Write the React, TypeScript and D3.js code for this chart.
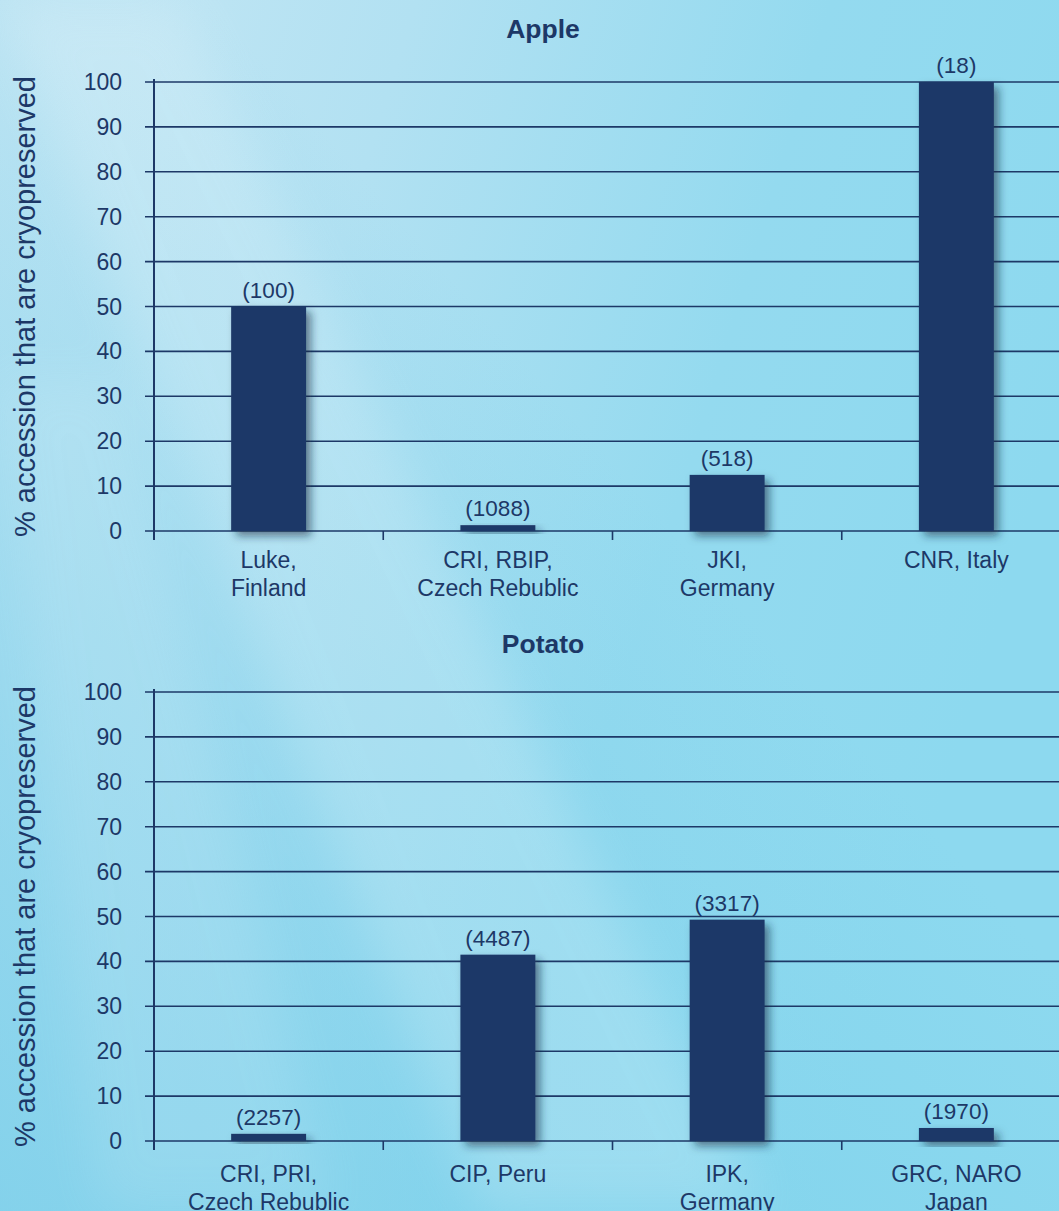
import React from "react";
import * as d3 from "d3";

const W = 1059;
const H = 1211;

const yTicks = [0, 10, 20, 30, 40, 50, 60, 70, 80, 90, 100];
const yLabel = "% accession that are cryopreserved";

const appleTitle = "Apple";
const appleCategories = [["Luke,", "Finland"], ["CRI, RBIP,", "Czech Rebublic"], ["JKI,", "Germany"], ["CNR, Italy"]];
const appleValues = [50, 1.3, 12.5, 100];
const appleCounts = ["(100)", "(1088)", "(518)", "(18)"];

const potatoTitle = "Potato";
const potatoCategories = [["CRI, PRI,", "Czech Rebublic"], ["CIP, Peru"], ["IPK,", "Germany"], ["GRC, NARO", "Japan"]];
const potatoValues = [1.6, 41.5, 49.3, 2.9];
const potatoCounts = ["(2257)", "(4487)", "(3317)", "(1970)"];

const NAVY = "#1d3867";
const FONT = "'Liberation Sans', Arial, Helvetica, sans-serif";

type ChartProps = {
  title: string;
  categories: string[][];
  values: number[];
  counts: string[];
  top: number;
  bottom: number;
  titleY: number;
  catOffset: number;
};

function Chart({ title, categories, values, counts, top, bottom, titleY, catOffset }: ChartProps) {
  const x0 = 154;
  const x1 = 1071;
  const y = d3.scaleLinear().domain([0, 100]).range([bottom, top]);
  const keys = categories.map((c) => c.join(" "));
  const x = d3.scaleBand<string>().domain(keys).range([x0, x1]).paddingInner(0.673).paddingOuter(0.3365);
  const step = x.step();
  const boundaries = keys.map((_, i) => x0 + i * step);
  return (
    <g>
      <text x={543} y={titleY} textAnchor="middle" fontFamily={FONT} fontWeight="bold" fontSize={26.5} fill={NAVY}>
        {title}
      </text>
      <text
        transform={`translate(35,${(top + bottom) / 2}) rotate(-90)`}
        textAnchor="middle"
        fontFamily={FONT}
        fontSize={29}
        fill={NAVY}
      >
        {yLabel}
      </text>
      {yTicks.map((t) => (
        <g key={t}>
          <line x1={x0 - 9} x2={W} y1={y(t)} y2={y(t)} stroke={NAVY} strokeWidth={1.6} />
          <text x={122} y={y(t) + 8} textAnchor="end" fontFamily={FONT} fontSize={23} fill={NAVY}>
            {t}
          </text>
        </g>
      ))}
      <line x1={x0} x2={x0} y1={top - 3} y2={bottom + 9} stroke={NAVY} strokeWidth={2} />
      {boundaries.map((b, i) => (
        <line key={i} x1={b} x2={b} y1={bottom} y2={bottom + 9} stroke={NAVY} strokeWidth={1.6} />
      ))}
      {keys.map((k, i) => (
        <g key={k}>
          <rect
            x={x(k)}
            y={y(values[i])}
            width={x.bandwidth()}
            height={y(0) - y(values[i])}
            fill={NAVY}
            filter="url(#barShadow)"
          />
          <text
            x={(x(k) as number) + x.bandwidth() / 2}
            y={y(values[i]) - 9}
            textAnchor="middle"
            fontFamily={FONT}
            fontSize={22.5}
            fill={NAVY}
          >
            {counts[i]}
          </text>
          {categories[i].map((line, j) => (
            <text
              key={j}
              x={(x(k) as number) + x.bandwidth() / 2}
              y={bottom + catOffset + j * 28}
              textAnchor="middle"
              fontFamily={FONT}
              fontSize={23}
              fill={NAVY}
            >
              {line}
            </text>
          ))}
        </g>
      ))}
    </g>
  );
}

export default function App() {
  return (
    <svg
      width={W}
      height={H}
      viewBox={`0 0 ${W} ${H}`}
      style={{ position: "absolute", left: 0, top: 0, display: "block", overflow: "hidden" }}
    >
      <defs>
        <linearGradient id="bg" x1="0" y1="0" x2="1" y2="0.35">
          <stop offset="0" stopColor="#c6e7f4" />
          <stop offset="0.35" stopColor="#b2e1f2" />
          <stop offset="0.7" stopColor="#94daef" />
          <stop offset="1" stopColor="#8dd9ef" />
        </linearGradient>
        <linearGradient id="bl" x1="0" y1="1" x2="0.6" y2="0.4">
          <stop offset="0" stopColor="#6fcbe8" stopOpacity="0.7" />
          <stop offset="1" stopColor="#6fcbe8" stopOpacity="0" />
        </linearGradient>
        <filter id="barShadow" x="-30%" y="-30%" width="170%" height="170%">
          <feDropShadow dx="5" dy="5" stdDeviation="4" floodColor="#0b2a3f" floodOpacity="0.55" />
        </filter>
        <filter id="blur">
          <feGaussianBlur stdDeviation="25" />
        </filter>
      </defs>
      <rect x={0} y={0} width={W} height={H} fill="url(#bg)" />
      <rect x={0} y={0} width={W} height={H} fill="url(#bl)" />
      <g filter="url(#blur)" opacity={0.18}>
        <polygon points="0,0 180,0 760,1211 480,1211" fill="#ffffff" />
        <polygon points="0,380 120,380 330,1211 100,1211" fill="#ffffff" opacity={0.6} />
      </g>
      <Chart
        title={appleTitle}
        categories={appleCategories}
        values={appleValues}
        counts={appleCounts}
        top={82}
        bottom={531}
        titleY={38}
        catOffset={37}
      />
      <Chart
        title={potatoTitle}
        categories={potatoCategories}
        values={potatoValues}
        counts={potatoCounts}
        top={692}
        bottom={1141}
        titleY={653}
        catOffset={41}
      />
    </svg>
  );
}
